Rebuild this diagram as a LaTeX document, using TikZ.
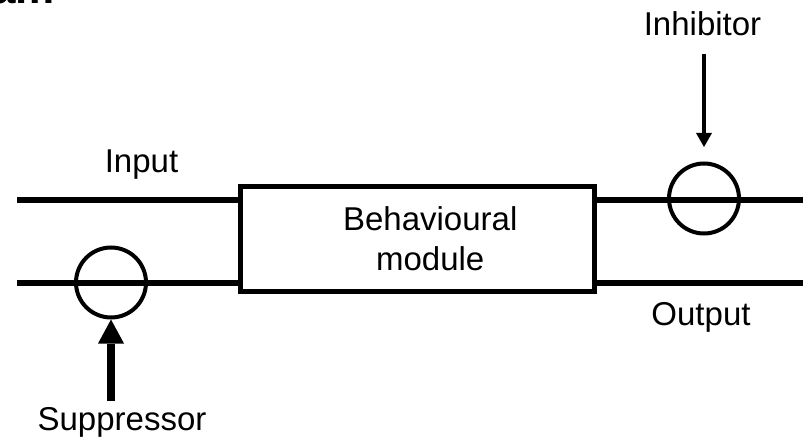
\documentclass[tikz,border=0pt]{standalone}
\usepackage{fontspec}
\setmainfont{Liberation Sans}
\usetikzlibrary{arrows.meta,positioning}
\tikzset{
  module/.style={
    draw,
    rectangle,
    minimum width=353.5pt,
    minimum height=105pt,
    inner sep=0pt,
    line width=5pt,
  },
  gate/.style={
    draw,
    circle,
    minimum size=70pt,
    inner sep=0pt,
    line width=4pt,
  },
  wire/.style={line width=6pt},
  signal/.style={line width=4pt, -{Triangle[length=14pt,width=16pt,line width=0pt]}},
  heavysignal/.style={line width=8pt, -{Triangle[length=24pt,width=26pt,line width=0pt]}},
  label/.style={font=\fontsize{33}{40}\selectfont, inner sep=0pt, anchor=base},
}

\begin{document}
\begin{tikzpicture}[x=1pt, y=-1pt]
  \useasboundingbox (0,0) rectangle (803,441);
  % title, cut off by the frame
  \begin{scope}
    \clip (0,0) rectangle (803,441);
    \node[font=\bfseries\fontsize{44}{50}\selectfont, inner sep=0pt, anchor=base west] (title) at (-9,3.5) {am};
  \end{scope}
  \node[module] (module) at (417.25,238.5) {};
  \node[label, align=center, anchor=center] (modtext) at ([xshift=13pt]module.center) {Behavioural\\module};
  \coordinate (inL) at (17,199.5);
  \coordinate (supL) at (17,282.5);
  \coordinate (inhR) at (803,199.5);
  \coordinate (outR) at (803,282.5);
  \draw[wire] (inL) -- (inL -| module.west);
  \draw[wire] (supL) -- (supL -| module.west);
  \draw[wire] (module.east |- inhR) -- (inhR);
  \draw[wire] (module.east |- outR) -- (outR);
  \node[gate] (supgate) at (111,282.5) {};
  \node[gate] (inhgate) at (704,198.5) {};
  \node[label] (input) at (141.5,172.7) {Input};
  \node[label] (output) at (701,325) {Output};
  \node[label] (inhibitor) at (702.5,36) {Inhibitor};
  \node[label] (suppressor) at (122,430) {Suppressor};
  \draw[signal, shorten <=17pt, shorten >=14.5pt] (inhgate.north |- inhibitor.south) -- (inhgate.north);
  \draw[heavysignal, shorten <=6pt] (supgate.south |- suppressor.north) -- (supgate.south);
\end{tikzpicture}
\end{document}
